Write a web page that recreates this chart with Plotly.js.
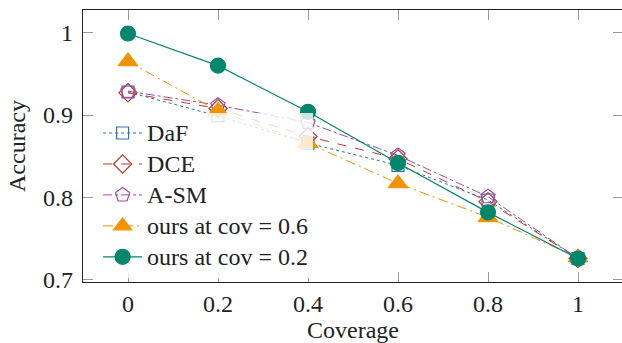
<!DOCTYPE html>
<html>
<head>
<meta charset="utf-8">
<script src="https://cdn.plot.ly/plotly-3.0.1.min.js"></script>
<style>
html, body { margin: 0; padding: 0; overflow: hidden; background: #fff; }
#chart { width: 625px; height: 343px; }
</style>
</head>
<body>
<div id="chart"></div>
<script>
const coverage = [0, 0.2, 0.4, 0.6, 0.8, 1];
const daf    = [0.928, 0.899, 0.866, 0.839, 0.797, 0.726];
const dce    = [0.927, 0.908, 0.874, 0.847, 0.795, 0.726];
const asm    = [0.929, 0.912, 0.891, 0.851, 0.801, 0.726];
const ours06 = [0.965, 0.905, 0.866, 0.817, 0.776, 0.727];
const ours02 = [0.999, 0.960, 0.904, 0.842, 0.782, 0.726];
const seriesNames = ['DaF', 'DCE', 'A-SM', 'ours at cov = 0.6', 'ours at cov = 0.2'];
const xTicks = [0, 0.2, 0.4, 0.6, 0.8, 1];
const xTickText = ['0', '0.2', '0.4', '0.6', '0.8', '1'];
const yTicks = [0.7, 0.8, 0.9, 1];
const yTickText = ['0.7', '0.8', '0.9', '1'];

const FONT = "'Liberation Serif', 'Times New Roman', serif";

function tr(name, y, color, dash, symbol, size, width) {
  return {
    x: coverage, y: y, name: '<span style="font-size:24px">' + name + '</span>',
    type: 'scatter', mode: 'lines+markers',
    line: { color: color, dash: dash, width: width || 1 },
    marker: { symbol: symbol, size: size, color: color, line: { color: color, width: 1.2 } }
  };
}

const data = [
  tr(seriesNames[0], daf, '#2f74ad', 'dot', 'square-open', 12),
  tr(seriesNames[1], dce, '#c0392b', 'dash', 'diamond-open', 14),
  tr(seriesNames[2], asm, '#a548a5', 'dashdot', 'pentagon-open', 15),
  tr(seriesNames[3], ours06, '#f39200', '10px,4px,2px,4px', 'triangle-up', 17),
  tr(seriesNames[4], ours02, '#00876c', 'solid', 'circle', 15, 1.2)
];

const layout = {
  width: 625, height: 343,
  margin: { l: 83, r: 2, t: 10, b: 61 },
  paper_bgcolor: '#fff', plot_bgcolor: '#fff',
  font: { family: FONT, size: 24, color: '#222' },
  showlegend: true,
  legend: {
    x: 0.028, y: 0.623, xanchor: 'left', yanchor: 'top',
    bgcolor: 'rgba(255,255,255,0.8)', borderwidth: 0,
    font: { family: FONT, size: 21.5, color: '#222' },
    itemwidth: 39, tracegroupgap: 0
  },
  xaxis: {
    range: [-0.1, 1.1], tickvals: xTicks, ticktext: xTickText,
    ticks: 'inside', ticklen: 10, tickcolor: '#999', tickwidth: 1,
    showline: true, linecolor: '#222', linewidth: 1.2, mirror: 'ticks',
    showgrid: false, zeroline: false,
    tickfont: { family: FONT, size: 24, color: '#222' },
    title: { text: 'Coverage', font: { family: FONT, size: 24, color: '#222' }, standoff: 10 }
  },
  yaxis: {
    range: [0.6975, 1.0275], tickvals: yTicks, ticktext: yTickText,
    ticks: 'inside', ticklen: 10, tickcolor: '#999', tickwidth: 1,
    showline: true, linecolor: '#222', linewidth: 1.2, mirror: 'ticks',
    showgrid: false, zeroline: false, ticklabelstandoff: 4,
    tickfont: { family: FONT, size: 24, color: '#222' },
    title: { text: 'Accuracy', font: { family: FONT, size: 24, color: '#222' }, standoff: 10 }
  }
};

Plotly.newPlot('chart', data, layout, { displayModeBar: false, staticPlot: true });
</script>
</body>
</html>
